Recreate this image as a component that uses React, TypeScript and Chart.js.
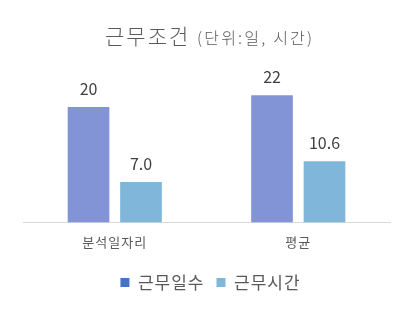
import React, { useEffect, useRef } from "react";
import { Chart, registerables } from "chart.js";

Chart.register(...registerables);

const categories = ["분석일자리", "평균"];
const seriesNames = ["근무일수", "근무시간"];
const workDays = [20, 22];
const workHours = [7.0, 10.6];
const valueLabels = [["20", "22"], ["7.0", "10.6"]];
const barColors = ["#8394D6", "#7FB6DA"];
const legendColors = ["#4472C4", "#7FB6DA"];
const titleMain = "근무조건";
const titleSub = "(단위:일, 시간)";

const FONT = "'Noto Sans CJK KR', 'Noto Sans', sans-serif";

export default function App() {
  const ref = useRef<HTMLCanvasElement | null>(null);
  useEffect(() => {
    if (!ref.current) return;
    const spacingPlugin = {
      id: "spacing",
      beforeDraw(chart: any) {
        (chart.ctx as any).letterSpacing = "1px";
      },
      beforeDatasetsDraw(chart: any) {
        (chart.ctx as any).letterSpacing = "0px";
      },
    };
    const labelPlugin = {
      id: "valueLabels",
      afterDatasetsDraw(chart: any) {
        const ctx = chart.ctx;
        ctx.save();
        (ctx as any).letterSpacing = "0px";
        ctx.font = `16px ${FONT}`;
        ctx.fillStyle = "#404040";
        ctx.textAlign = "center";
        ctx.textBaseline = "middle";
        chart.data.datasets.forEach((ds: any, di: number) => {
          const meta = chart.getDatasetMeta(di);
          meta.data.forEach((bar: any, i: number) => {
            ctx.fillText(valueLabels[di][i], bar.x, bar.y - 18);
          });
        });
        ctx.restore();
      },
    };
    const titlePlugin = {
      id: "titleMixed",
      afterDraw(chart: any) {
        const ctx = chart.ctx;
        ctx.save();
        ctx.textBaseline = "middle";
        ctx.textAlign = "left";
        ctx.fillStyle = "#595959";
        (ctx as any).letterSpacing = "2px";
        ctx.font = `300 21px ${FONT}`;
        ctx.fillText(titleMain, 105, 36);
        (ctx as any).letterSpacing = "2.2px";
        ctx.font = `300 16px ${FONT}`;
        ctx.fillText(titleSub, 197, 38);
        ctx.restore();
      },
    };
    const chart = new Chart(ref.current, {
      type: "bar",
      data: {
        labels: categories,
        datasets: [
          { label: seriesNames[0], data: workDays, backgroundColor: barColors[0] },
          { label: seriesNames[1], data: workHours, backgroundColor: barColors[1] },
        ],
      },
      options: {
        animation: false,
        responsive: false,
        layout: { padding: { top: 78, left: 23, right: 23, bottom: 10 } },
        datasets: {
          bar: { categoryPercentage: 0.572, barPercentage: 0.794 },
        } as any,
        scales: {
          x: {
            grid: { display: false, drawTicks: false },
            border: { display: true, color: "#D9D9D9", width: 1 },
            ticks: { color: "#595959", font: { size: 13, family: FONT }, padding: 12 },
          },
          y: { display: false, min: 0, max: 25 },
        },
        plugins: {
          legend: {
            position: "bottom",
            labels: {
              boxWidth: 9,
              boxHeight: 9,
              padding: 12,
              color: "#595959",
              font: { size: 17, family: FONT },
              generateLabels: () =>
                seriesNames.map((n, i) => ({
                  text: n,
                  fillStyle: legendColors[i],
                  strokeStyle: legendColors[i],
                  lineWidth: 0,
                  datasetIndex: i,
                  fontColor: "#595959",
                })),
            },
          },
          title: { display: false },
          tooltip: { enabled: false },
        },
      },
      plugins: [spacingPlugin, labelPlugin, titlePlugin],
    });
    return () => chart.destroy();
  }, []);
  return (
    <div style={{ position: "absolute", left: 0, top: 0, width: 413, height: 311, background: "#fff" }}>
      <canvas ref={ref} width={413} height={311} style={{ width: 413, height: 311 }} />
    </div>
  );
}
